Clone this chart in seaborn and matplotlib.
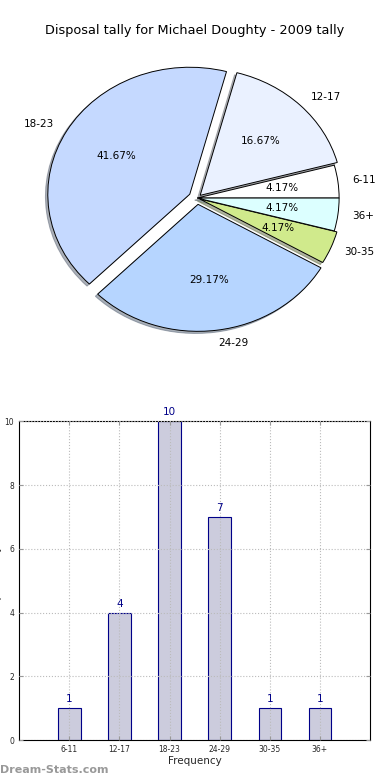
import numpy as np
import pandas as pd
import seaborn as sns
import matplotlib
matplotlib.use('Agg')
import matplotlib.pyplot as plt

# data
pie_labels = ['6-11', '12-17', '18-23', '24-29', '30-35', '36+']
pie_values = [1, 4, 10, 7, 1, 1]
pie_colors = ['#ffffff', '#eaf1ff', '#c5d9ff', '#b6d5ff', '#d0ea8c', '#dcffff']
pie_explode = [0.0, 0.03, 0.06, 0.05, 0.02, 0.0]

bar_labels = ['6-11', '12-17', '18-23', '24-29', '30-35', '36+']
bar_values = [1, 4, 10, 7, 1, 1]

sns.set_style('white')
plt.rcParams['font.family'] = ['DejaVu Sans']

fig = plt.figure(figsize=(3.9, 7.8), dpi=100)

# pie chart (matplotlib, no seaborn pie)
ax1 = fig.add_axes([0.0505, 0.5426, 0.91, 0.407])
wedges, texts, autotexts = ax1.pie(
    pie_values, labels=pie_labels, colors=pie_colors, explode=pie_explode,
    autopct='%1.2f%%', startangle=0, counterclock=True,
    shadow={'ox': -0.012, 'oy': -0.012, 'shade': 0.55},
    wedgeprops=dict(edgecolor='black', linewidth=0.7),
    textprops=dict(fontsize=7.5, color='black'))
ax1.set_aspect('auto')
ax1.set_xlim(-1.25, 1.25)
ax1.set_ylim(-1.25, 1.25)
fig.text(0.5, 0.961, 'Disposal tally for Michael Doughty - 2009 tally',
         ha='center', va='center', fontsize=9.3, color='black')

# bar chart
ax2 = fig.add_axes([0.049, 0.051, 0.9, 0.409])
df = pd.DataFrame({'range': bar_labels, 'tally': bar_values})
sns.barplot(data=df, x='range', y='tally', ax=ax2, width=0.45,
            color='#ccccdd', edgecolor='#000088', linewidth=0.8,
            saturation=1, errorbar=None)
ax2.set_xlim(-1, 6)
ax2.set_ylim(0, 10)
ax2.set_yticks(range(0, 11, 2))
ax2.grid(True, color='#bbbbbb', linestyle=':', linewidth=0.8)
ax2.set_axisbelow(False)
for sp in ax2.spines.values():
    sp.set_visible(True)
    sp.set_color('black')
    sp.set_linewidth(0.8)
ax2.tick_params(axis='both', direction='in', length=3, labelsize=5.5,
                top=True, right=True, bottom=True, left=True, color='#999999')
for i, v in enumerate(bar_values):
    ax2.text(i, v + 0.12, str(v), ha='center', va='bottom',
             fontsize=7.5, color='#000088')
ax2.set_xlabel('Frequency', fontsize=7.5, labelpad=1.5)
ax2.set_ylabel('Disposal Tally', fontsize=7.5, labelpad=2)

fig.text(0.0, 0.013, 'Dream-Stats.com', ha='left', va='center',
         fontsize=8, color='#999999', fontweight='bold')

fig.savefig('out.png', dpi=100)
